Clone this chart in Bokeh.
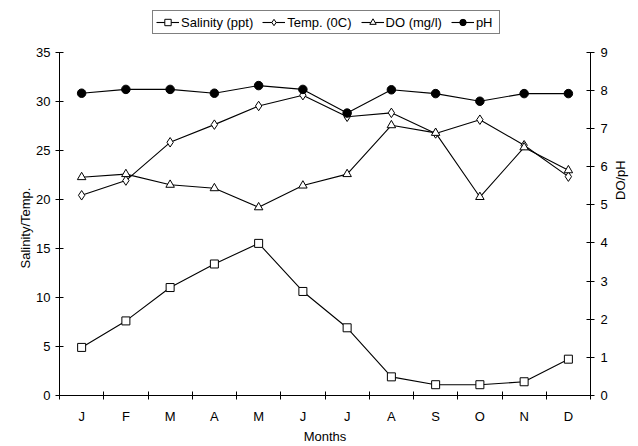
import math
from bokeh.plotting import figure
from bokeh.models import Range1d, LinearAxis, FixedTicker, Legend, LegendItem, Title
from bokeh.embed import file_html
from bokeh.resources import INLINE

months = ["J", "F", "M", "A", "M", "J", "J", "A", "S", "O", "N", "D"]
salinity = [4.9, 7.6, 11.0, 13.4, 15.5, 10.6, 6.9, 1.9, 1.1, 1.1, 1.4, 3.7]
temp = [20.4, 21.9, 25.8, 27.6, 29.5, 30.6, 28.4, 28.8, 26.7, 28.1, 25.5, 22.3]
do_mgl = [5.72, 5.80, 5.52, 5.43, 4.93, 5.50, 5.80, 7.08, 6.88, 5.20, 6.50, 5.90]
ph = [7.92, 8.02, 8.02, 7.92, 8.12, 8.02, 7.40, 8.01, 7.91, 7.71, 7.91, 7.91]
left_ticks = [0, 5, 10, 15, 20, 25, 30, 35]
right_ticks = [0, 1, 2, 3, 4, 5, 6, 7, 8, 9]

x = list(range(1, len(months) + 1))
FONT = "Liberation Sans"

W, H = 638, 446
BL, BR, BT, BB = 59, 46, 4, 51
FW, FH = W - BL - BR, H - BT - BB
TOP_PAD = 47.5   # empty frame space above the top ticks (holds the legend)
scale = FH / (FH - TOP_PAD)

p = figure(width=W, height=H, output_backend="svg", toolbar_location=None,
           x_range=Range1d(0.5, len(months) + 0.5),
           y_range=Range1d(0, left_ticks[-1] * scale),
           min_border_left=BL, min_border_right=BR, min_border_top=BT, min_border_bottom=BB)
p.extra_y_ranges = {"right": Range1d(0, right_ticks[-1] * scale)}
p.xgrid.visible = False
p.ygrid.visible = False
p.outline_line_color = None
p.background_fill_color = "white"
p.border_fill_color = "white"

# x axis: labels at month centres, tick marks between months
xa = p.xaxis[0]
xa.ticker = FixedTicker(ticks=x, minor_ticks=[i + 0.5 for i in range(len(months) + 1)])
xa.major_label_overrides = {i: m for i, m in zip(x, months)}
xa.major_tick_in = 0
xa.major_tick_out = 0
xa.minor_tick_in = 4
xa.minor_tick_out = 4
xa.minor_tick_line_color = "black"
xa.major_label_standoff = 9
xa.axis_label = "Months"
xa.axis_label_standoff = 2

ya = p.yaxis[0]
ya.ticker = FixedTicker(ticks=left_ticks)
ya.bounds = (left_ticks[0], left_ticks[-1])
ya.major_tick_in = 4
ya.major_tick_out = 4
ya.major_label_standoff = 5

# left title placed as a side title so it can be centred on the tick span
p.add_layout(Title(text="Salinity/Temp.", align="left", offset=127, standoff=0,
                   vertical_align="middle", text_font=FONT, text_font_size="13px",
                   text_font_style="normal", text_color="black"), "left")

ra = LinearAxis(y_range_name="right", ticker=FixedTicker(ticks=right_ticks),
                axis_label="DO/pH", bounds=(right_ticks[0], right_ticks[-1]))
ra.major_tick_in = 4
ra.major_tick_out = 4
ra.major_label_standoff = 6
ra.axis_label_standoff = 10
try:
    ra.axis_label_orientation = math.pi / 2
except Exception:
    pass
p.add_layout(ra, "right")

for ax in [xa, ya, ra]:
    ax.axis_line_color = "black"
    ax.major_tick_line_color = "black"
    ax.major_label_text_font = FONT
    ax.major_label_text_font_size = "13px"
    ax.major_label_text_color = "black"
    ax.axis_label_text_font = FONT
    ax.axis_label_text_font_size = "13px"
    ax.axis_label_text_font_style = "normal"
    ax.axis_label_text_color = "black"

sal_l = p.line(x, salinity, line_color="black", line_width=1.1)
sal_s = p.scatter(x, salinity, marker="square", size=8, fill_color="white", line_color="black")
tmp_l = p.line(x, temp, line_color="black", line_width=1.1)
tmp_s = p.scatter(x, temp, marker="diamond", size=9.5, fill_color="white", line_color="black")
do_l = p.line(x, do_mgl, line_color="black", line_width=1.1, y_range_name="right")
do_s = p.scatter(x, do_mgl, marker="triangle", size=8.5, fill_color="white",
                 line_color="black", y_range_name="right")
ph_l = p.line(x, ph, line_color="black", line_width=1.1, y_range_name="right")
ph_s = p.scatter(x, ph, marker="circle", size=8.5, fill_color="black",
                 line_color="black", y_range_name="right")

# legend box: left edge at canvas x=152, bottom edge at canvas y=34
legend = Legend(items=[
    LegendItem(label="Salinity (ppt)", renderers=[sal_l, sal_s]),
    LegendItem(label="Temp. (0C)", renderers=[tmp_l, tmp_s]),
    LegendItem(label="DO (mg/l)", renderers=[do_l, do_s]),
    LegendItem(label="pH", renderers=[ph_l, ph_s]),
], location=(152 - BL, FH + BT - 34), orientation="horizontal")
legend.margin = 0
legend.padding = 3
legend.spacing = 9
legend.glyph_width = 23
legend.glyph_height = 16
legend.label_height = 16
legend.label_standoff = 2
legend.label_text_font = FONT
legend.label_text_font_size = "13px"
legend.label_text_color = "black"
legend.border_line_color = "black"
legend.border_line_width = 1
legend.background_fill_color = "white"
legend.background_fill_alpha = 1
p.add_layout(legend)

open("out.html", "w").write(file_html(p, INLINE))
